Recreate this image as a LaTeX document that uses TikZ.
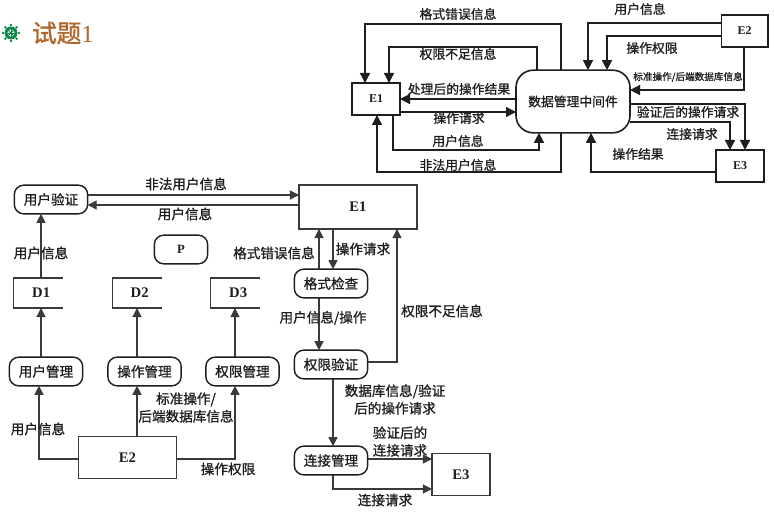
\documentclass[tikz,border=0pt]{standalone}
\usepackage{fontspec}
\newfontfamily\cjk[FakeBold=1]{Noto Sans CJK SC}
\newfontfamily\cjkb[FakeBold=1.2]{Noto Sans CJK SC}
\setmainfont{Liberation Serif}
\usetikzlibrary{arrows.meta}
\definecolor{ink}{HTML}{1E1E1E}
\definecolor{soft}{HTML}{3A3A3A}
\definecolor{titlebrown}{HTML}{B0662A}
\definecolor{wheelgreen}{HTML}{12874A}
\tikzset{
  every node/.style={inner sep=0pt,outer sep=0pt,text=ink},
  arr/.style={draw=ink,line width=1pt,-{Triangle[length=7.5pt,width=7.5pt]}},
  low/.style={draw=soft,line width=0.85pt,-{Triangle[length=6.8pt,width=6.8pt]}},
  line/.style={draw=soft,line width=0.85pt},
  lab/.style={font=\cjk\fontsize{9.6}{11}\selectfont,align=center},
  lowlab/.style={font=\cjk\fontsize{10.2}{12}\selectfont,align=center},
  small/.style={font=\cjk\fontsize{7.2}{8}\selectfont},
  bx/.style={draw=ink,line width=1pt,font=\rmfamily\bfseries\fontsize{9}{11}\selectfont},
  bigbx/.style={draw=soft,line width=0.85pt,font=\rmfamily\bfseries\fontsize{11}{13}\selectfont},
  proc/.style={draw=ink,line width=1.05pt,rounded corners=7pt,minimum width=55pt,minimum height=21.5pt,font=\cjk\fontsize{10.2}{12}\selectfont},
  store/.style={minimum width=37pt,minimum height=22.5pt,font=\rmfamily\bfseries\fontsize{11}{13}\selectfont},
}
\begin{document}
\begin{tikzpicture}[x=0.75pt,y=-0.75pt]
\useasboundingbox (0,0) rectangle (774,513);
% title
\fill[wheelgreen] (11,33) circle (6.5);
\foreach \a in {0,45,...,315}{\fill[wheelgreen] (11,33) ++(\a:8) circle (1.4);}
\fill[white] (11,33) circle (3.6);
\fill[wheelgreen] (11,33) circle (1.4);
\foreach \a in {0,45,...,135}{\draw[wheelgreen,line width=0.6pt] (11,33) ++(\a:5) -- ++(\a+180:10);}
\node[anchor=west,text=titlebrown,font=\cjkb\fontsize{18.5}{20}\selectfont] (title) at (32,33) {试题{\rmfamily 1}};
% upper diagram
\node[bx,minimum width=36pt,minimum height=24pt] (tE1) at (376,99) {E1};
\node[draw=ink,line width=1.2pt,rounded corners=13pt,minimum width=85.5pt,minimum height=47pt,font=\cjk\fontsize{9.6}{12}\selectfont] (mw) at (573,101.5) {数据管理中间件};
\node[bx,minimum width=35pt,minimum height=24pt] (tE2) at (744.5,31) {E2};
\node[bx,minimum width=36pt,minimum height=24pt] (tE3) at (740,166) {E3};
\draw[arr] (561,0 |- mw.north) -- (561,24) -- (365,24) -- (365,0 |- tE1.north);
\draw[arr] (537,0 |- mw.north) -- (537,47) -- (389,47) -- (389,0 |- tE1.north);
\draw[arr] (0,99 -| mw.west) -- (0,99 -| tE1.east);
\draw[arr] (0,112 -| tE1.east) -- (0,112 -| mw.west);
\draw[arr] (393,0 |- tE1.south) -- (393,150) -- (539,150) -- (539,0 |- mw.south);
\draw[arr] (561,0 |- mw.south) -- (561,172) -- (377,172) -- (377,0 |- tE1.south);
\draw[arr] (0,23 -| tE2.west) -- (588,23) -- (588,0 |- mw.north);
\draw[arr] (0,36 -| tE2.west) -- (607,36) -- (607,0 |- mw.north);
\draw[arr] (744,0 |- tE2.south) -- (744,90) -- (0,90 -| mw.east);
\draw[arr] (0,104 -| mw.east) -- (745,104) -- (745,0 |- tE3.north);
\draw[arr] (0,122 -| mw.east) -- (730,122) -- (730,0 |- tE3.north);
\draw[arr] (0,172 -| tE3.west) -- (591,172) -- (591,0 |- mw.south);
\node[lab] (u1) at (458,14) {格式错误信息};
\node[lab] (u2) at (458,54) {权限不足信息};
\node[lab] (u3) at (459,89) {处理后的操作结果};
\node[lab] (u4) at (459,118) {操作请求};
\node[lab] (u5) at (458,141) {用户信息};
\node[lab] (u6) at (458,165) {非法用户信息};
\node[lab] (u7) at (640,9) {用户信息};
\node[lab] (u8) at (652,48) {操作权限};
\node[small] (u9) at (688,77) {标准操作/后端数据库信息};
\node[lab] (u10) at (688,112) {验证后的操作请求};
\node[lab] (u11) at (692,134) {连接请求};
\node[lab] (u12) at (638,154) {操作结果};
% lower diagram
\node[proc] (auth) at (51,199.5) {用户验证};
\node[proc,minimum width=40pt,font=\rmfamily\bfseries\fontsize{9.5}{11}\selectfont] (P) at (181,249.5) {P};
\node[store] (D1) at (38.5,293) {\hspace{4pt}D1};
\node[store] (D2) at (137,293) {\hspace{4pt}D2};
\node[store] (D3) at (235.5,293) {\hspace{4pt}D3};
\foreach \n in {D1,D2,D3}{\draw[line] (\n.north east) -- (\n.north west) -- (\n.south west) -- (\n.south east);}
\node[proc] (um) at (46,371.5) {用户管理};
\node[proc] (om) at (144.5,371.5) {操作管理};
\node[proc] (pm) at (242.5,371.5) {权限管理};
\node[bigbx,minimum width=74pt,minimum height=32pt] (bE2) at (127.5,457.5) {E2};
\node[bigbx,minimum width=88.5pt,minimum height=33pt] (bE1) at (358,207) {E1};
\node[proc] (fc) at (331,283.5) {格式检查};
\node[proc] (pv) at (331,364.5) {权限验证};
\node[proc] (cm) at (331,460.5) {连接管理};
\node[bigbx,minimum width=43.5pt,minimum height=32pt] (bE3) at (461,474.5) {E3};
\draw[low] (0,195 -| auth.east) -- (0,195 -| bE1.west);
\draw[low] (0,205 -| bE1.west) -- (0,205 -| auth.east);
\draw[low] (41,0 |- D1.north) -- (41,0 |- auth.south);
\draw[low] (41,0 |- um.north) -- (41,0 |- D1.south);
\draw[low] (137,0 |- om.north) -- (137,0 |- D2.south);
\draw[low] (235,0 |- pm.north) -- (235,0 |- D3.south);
\draw[low] (0,459 -| bE2.west) -- (39,459) -- (39,0 |- um.south);
\draw[low] (137,0 |- bE2.north) -- (137,0 |- om.south);
\draw[low] (0,459 -| bE2.east) -- (235,459) -- (235,0 |- pm.south);
\draw[low] (333,0 |- bE1.south) -- (333,0 |- fc.north);
\draw[low] (319,0 |- fc.north) -- (319,0 |- bE1.south);
\draw[low] (319,0 |- fc.south) -- (319,0 |- pv.north);
\draw[low] (0,362 -| pv.east) -- (397,362) -- (397,0 |- bE1.south);
\draw[low] (333,0 |- pv.south) -- (333,0 |- cm.north);
\draw[low] (0,459 -| cm.east) -- (0,459 -| bE3.west);
\draw[low] (333,0 |- cm.south) -- (333,489) -- (0,489 -| bE3.west);
\node[lowlab] (l1) at (186,184) {非法用户信息};
\node[lowlab] (l2) at (185,214) {用户信息};
\node[lowlab] (l3) at (41,253) {用户信息};
\node[lowlab] (l4) at (186,407.5) {标准操作/\\[1.2pt]后端数据库信息};
\node[lowlab] (l5) at (38,429) {用户信息};
\node[lowlab] (l6) at (228,469) {操作权限};
\node[lowlab] (l7) at (274,253) {格式错误信息};
\node[lowlab] (l8) at (363,249) {操作请求};
\node[lowlab] (l9) at (323,318) {用户信息/操作};
\node[lowlab] (l10) at (442,311) {权限不足信息};
\node[lowlab] (l11) at (395,399.5) {数据库信息/验证\\[1.2pt]后的操作请求};
\node[lowlab] (l12) at (400,441.5) {验证后的\\[1.2pt]连接请求};
\node[lowlab] (l13) at (385,500) {连接请求};
\end{tikzpicture}
\end{document}
